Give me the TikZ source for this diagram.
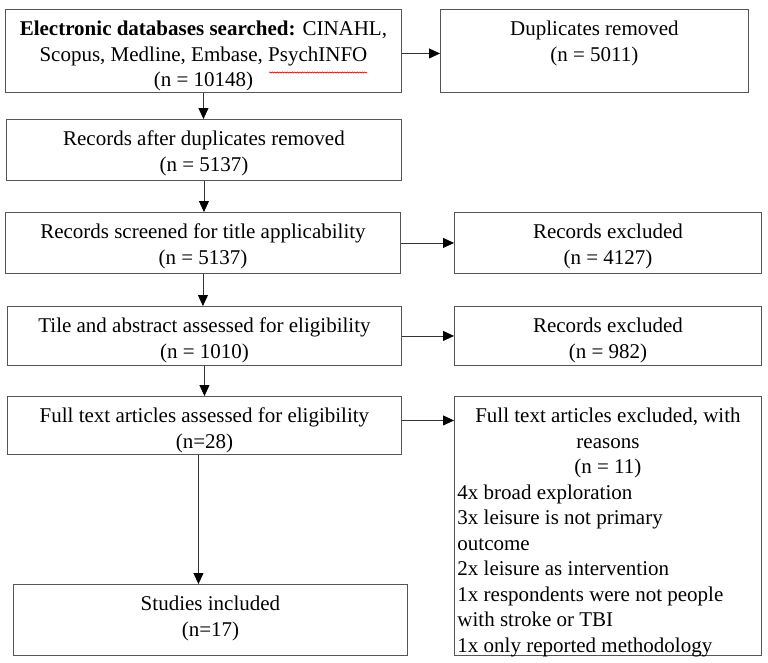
\documentclass[tikz,border=0pt]{standalone}
\usepackage{fontspec}
\setmainfont{Liberation Serif}
\usetikzlibrary{arrows.meta,calc,decorations.pathmorphing}
\definecolor{bordergray}{HTML}{555555}
\definecolor{linegray}{HTML}{333333}
\newcommand{\bxt}[3]{\parbox[c][#2pt][t]{#1pt}{\centering\rule{0pt}{26.5pt}#3}}
\tikzset{
  box/.style={draw=bordergray, line width=0.9pt, inner sep=0pt, anchor=north west,
    font=\fontsize{21}{25.5}\selectfont},
  arr/.style={draw=linegray, line width=0.8pt, -{Triangle[length=11pt,width=10pt,color=black]}},
}
\begin{document}
\begin{tikzpicture}[x=1pt,y=-1pt]
\useasboundingbox (0,0) rectangle (768,662);
\fill[white] (0,0) rectangle (768,662);

\node[box] (b1) at (5,9) {\bxt{396}{83}{\textbf{Electronic databases searched:} CINAHL,\\Scopus, Medline, Embase, PsychINFO\\(n = 10148)}};
\node[box] (dup) at (440,9) {\bxt{308}{83}{Duplicates removed\\(n = 5011)}};
\node[box] (b2) at (6,119) {\bxt{395}{61}{Records after duplicates removed\\(n = 5137)}};
\node[box] (b3) at (5,212) {\bxt{395}{61}{Records screened for title applicability\\(n = 5137)}};
\node[box] (ex1) at (454,212) {\bxt{307}{61}{Records excluded\\(n = 4127)}};
\node[box] (b4) at (7,306) {\bxt{394}{59}{Tile and abstract assessed for eligibility\\(n = 1010)}};
\node[box] (ex2) at (454,306) {\bxt{307}{59}{Records excluded\\(n = 982)}};
\node[box] (b5) at (7,396) {\bxt{394}{58}{Full text articles assessed for eligibility\\(n=28)}};
\node[box] (ex3) at (454,396) {\parbox[c][259pt][t]{307pt}{\centering\rule{0pt}{26.5pt}Full text articles excluded, with\\reasons\\(n = 11)\par
  \raggedright\leftskip=3pt 4x broad exploration\\3x leisure is not primary\\outcome\\2x leisure as intervention\\1x respondents were not people\\with stroke or TBI\\1x only reported methodology\par}};
\node[box] (inc) at (13,584) {\bxt{394}{71}{Studies included\\(n=17)}};

% spell-check underline
\draw[red, line width=0.6pt, decorate, decoration={snake, amplitude=0.6pt, segment length=2.5pt}] (269,72.5) -- (367,72.5);

\draw[arr] ([yshift=-2.5pt]b1.east) -- ([yshift=-2.5pt]dup.west);
\draw[arr] (b1.south) -- (b1.south |- b2.north);
\draw[arr] (b2.south) -- (b2.south |- b3.north);
\draw[arr] (b3.east) -- (b3.east -| ex1.west);
\draw[arr] (b3.south) -- (b3.south |- b4.north);
\draw[arr] (b4.east) -- (b4.east -| ex2.west);
\draw[arr] (b4.south) -- (b4.south |- b5.north);
\draw[arr] ([yshift=5pt]b5.east) -- ([yshift=5pt]b5.east -| ex3.west);
\draw[arr] ([xshift=-6pt]b5.south) -- ([xshift=-6pt]b5.south |- inc.north);
\end{tikzpicture}
\end{document}
